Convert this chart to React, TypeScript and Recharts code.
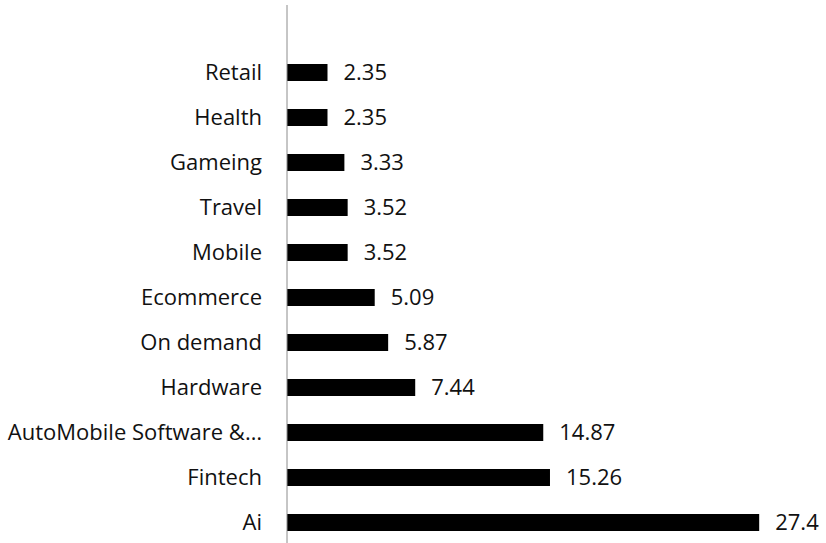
import { BarChart, Bar, XAxis, YAxis, LabelList } from "recharts";

const sectors = [
  "Retail",
  "Health",
  "Gameing",
  "Travel",
  "Mobile",
  "Ecommerce",
  "On demand",
  "Hardware",
  "AutoMobile Software &…",
  "Fintech",
  "Ai",
];
const shares = [2.35, 2.35, 3.33, 3.52, 3.52, 5.09, 5.87, 7.44, 14.87, 15.26, 27.4];

const data = sectors.map((name, i) => ({ name, value: shares[i] }));

const FONT = "'Open Sans', sans-serif";

export default function App() {
  return (
    <div
      style={{
        position: "fixed",
        left: 0,
        top: 0,
        width: 826,
        height: 543,
        overflow: "hidden",
        background: "#fff",
      }}
    >
      <BarChart
        width={826}
        height={546}
        data={data}
        layout="vertical"
        margin={{ top: 5, right: 22, bottom: 1, left: 0 }}
      >
        <XAxis type="number" domain={[0, 30]} hide />
        <YAxis
          type="category"
          dataKey="name"
          width={287}
          interval={0}
          tickLine={false}
          tickSize={0}
          tickMargin={25}
          axisLine={{ stroke: "#8c8c8c", strokeWidth: 1 }}
          padding={{ top: 45, bottom: 0 }}
          tick={{ fill: "#111", fontSize: 22, fontFamily: FONT }}
        />
        <Bar dataKey="value" fill="#000" barSize={17} isAnimationActive={false}>
          <LabelList
            dataKey="value"
            position="right"
            offset={16}
            fill="#111"
            fontSize={22}
            fontFamily={FONT}
          />
        </Bar>
      </BarChart>
    </div>
  );
}
